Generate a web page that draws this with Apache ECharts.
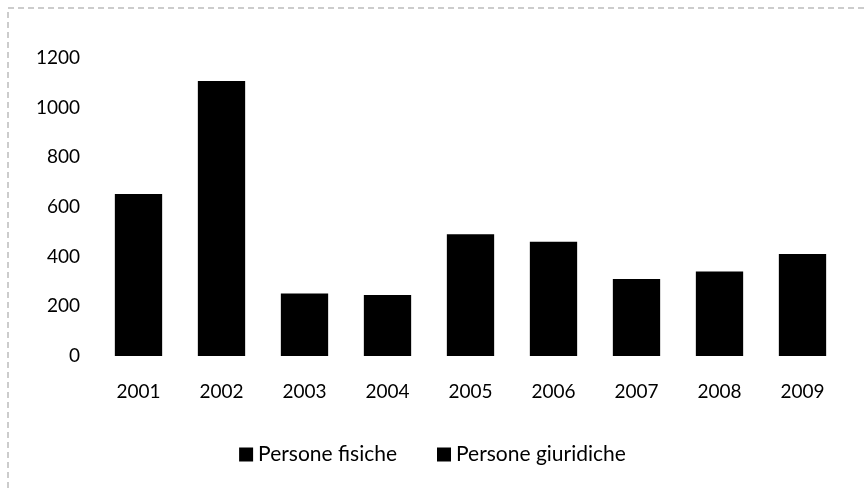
<!DOCTYPE html>
<html>
<head>
<meta charset="utf-8">
<script src="https://cdn.jsdelivr.net/npm/echarts@6/dist/echarts.min.js"></script>
<style>
  html, body { margin: 0; padding: 0; background: #fff; }
  #chart { width: 865px; height: 489px; }
</style>
</head>
<body>
<div id="chart"></div>
<script>
var years = ['2001', '2002', '2003', '2004', '2005', '2006', '2007', '2008', '2009'];
var fisiche = [652, 1107, 252, 246, 490, 460, 310, 340, 411];
var giuridiche = [];
var yTicks = [0, 200, 400, 600, 800, 1000, 1200];

var myChart = echarts.init(document.getElementById('chart'));
myChart.setOption({
  color: ['#000000', '#000000'],
  textStyle: { fontFamily: 'Lato, "Open Sans", sans-serif' },
  graphic: [
    {
      type: 'rect',
      shape: { x: 8, y: 8, width: 860, height: 490 },
      style: { fill: 'none', stroke: '#999', lineWidth: 1, lineDash: [6, 4] },
      silent: true
    }
  ],
  legend: {
    bottom: 19,
    left: 'center',
    itemWidth: 14,
    itemHeight: 14,
    itemGap: 40,
    icon: 'rect',
    textStyle: { color: '#000', fontSize: 21, fontFamily: 'Lato, "Open Sans", sans-serif' },
    data: ['Persone fisiche', 'Persone giuridiche']
  },
  grid: {
    left: 97,
    right: 21,
    top: 58,
    bottom: 133
  },
  xAxis: {
    type: 'category',
    data: years,
    axisLine: { show: false },
    axisTick: { show: false },
    axisLabel: { color: '#000', fontSize: 19, margin: 26 }
  },
  yAxis: {
    type: 'value',
    min: yTicks[0],
    max: yTicks[yTicks.length - 1],
    interval: 200,
    splitLine: { show: false },
    axisLine: { show: false },
    axisTick: { show: false },
    axisLabel: {
      color: '#000',
      fontSize: 19,
      margin: 17,
      formatter: function (v) { return String(v); }
    }
  },
  series: [
    {
      name: 'Persone fisiche',
      type: 'bar',
      stack: 'tot',
      barWidth: '57%',
      data: fisiche
    },
    {
      name: 'Persone giuridiche',
      type: 'bar',
      stack: 'tot',
      barWidth: '57%',
      data: giuridiche
    }
  ]
});
</script>
</body>
</html>
